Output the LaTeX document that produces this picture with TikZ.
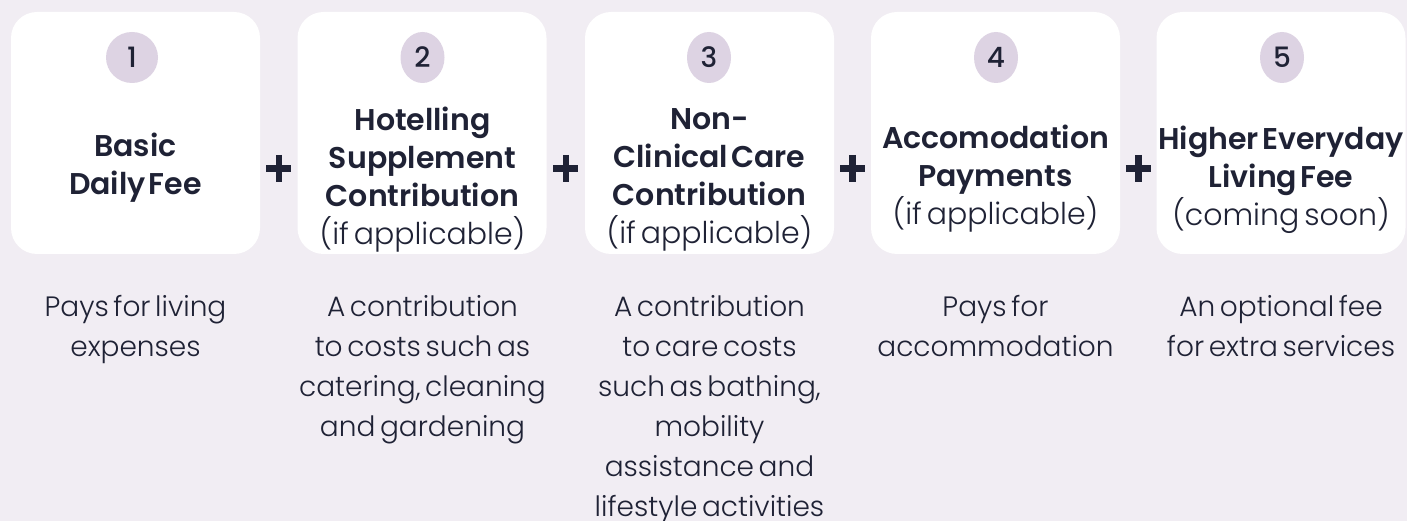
\documentclass[tikz,border=0pt]{standalone}
\usepackage{fontspec}
\usetikzlibrary{shapes.geometric,calc}
\setmainfont{Poppins}[WordSpace=0.6]
\IfFontExistsTF{Poppins Light}
  {\newfontfamily\lightfont{Poppins Light}[WordSpace=0.6]}
  {\newfontfamily\lightfont{Poppins}[WordSpace=0.6]}
\IfFontExistsTF{Poppins SemiBold}
  {\newfontfamily\semifont{Poppins SemiBold}[WordSpace=0.45]}
  {\newcommand\semifont{\bfseries}}
\IfFontExistsTF{Poppins Medium}
  {\newfontfamily\medfont{Poppins Medium}}
  {\newcommand\medfont{\normalfont}}
\definecolor{pagebg}{HTML}{F1EDF3}
\definecolor{numfill}{HTML}{DDD3E3}
\definecolor{inkdark}{HTML}{1F2235}
\begin{document}
\begin{tikzpicture}[x=1pt, y=-1pt, color=inkdark,
  card/.style={rectangle, rounded corners=26pt, fill=white, draw=none,
    minimum width=249pt, minimum height=242pt},
  badge/.style={ellipse, fill=numfill, inner sep=0pt,
    minimum width=44pt, minimum height=51pt,
    font=\medfont\fontsize{28}{28}\selectfont},
  title/.style={align=center, inner sep=0pt,
    font=\semifont\fontsize{30}{38}\selectfont},
  note/.style={align=center, anchor=north, inner sep=0pt,
    font=\lightfont\fontsize{28}{40}\selectfont},
  plusbar/.style={line width=6.5pt}]
\useasboundingbox (0,0) rectangle (1407,521);
\fill [pagebg] (0,0) rectangle (1407,521);
% cards
\node (card1) [card] at (135.5,133) {};
\node (card2) [card] at (422,133) {};
\node (card3) [card] at (709.5,133) {};
\node (card4) [card] at (995.5,133) {};
\node (card5) [card] at (1281,133) {};
% numbers
\node (num1) [badge, minimum width=52pt] at (132,57.5) {1};
\node (num2) [badge] at (422.5,57.5) {2};
\node (num3) [badge] at (709,57.5) {3};
\node (num4) [badge] at (996,57.5) {4};
\node (num5) [badge] at (1282,57.5) {5};
% names
\node (name1) [title] at (135.5,168) {Basic\\Daily Fee};
\node (name2) [title] at (422.5,180) {Hotelling\\Supplement\\Contribution\\{\lightfont (if applicable)}};
\node (name3) [title] at (709.5,180) {Non-\\Clinical Care\\Contribution\\{\lightfont (if applicable)}};
\node (name4) [title] at (995.5,179) {Accomodation\\Payments\\{\lightfont (if applicable)}};
\node (name5) [title] at (1281,180) {Higher Everyday\\Living Fee\\{\lightfont (coming soon)}};
% descriptions
\node (text1) [note] at (135.5,295) {Pays for living\\expenses};
\node (text2) [note] at (422.5,295) {A contribution\\to costs such as\\catering, cleaning\\and gardening};
\node (text3) [note] at (709.5,295) {A contribution\\to care costs\\such as bathing,\\mobility\\assistance and\\lifestyle activities};
\node (text4) [note] at (995.5,295) {Pays for\\accommodation};
\node (text5) [note] at (1281,295) {An optional fee\\for extra services};
% plus signs
\foreach \from/\to in {card1/card2, card2/card3, card3/card4, card4/card5} {
  \coordinate (plus-\from) at ($(\from.east)!0.5!(\to.west)+(0,35.5)$);
  \draw [plusbar] (plus-\from) +(-12.5,0) -- +(12.5,0) +(0,-13.5) -- +(0,13.5);
}
\end{tikzpicture}
\end{document}
